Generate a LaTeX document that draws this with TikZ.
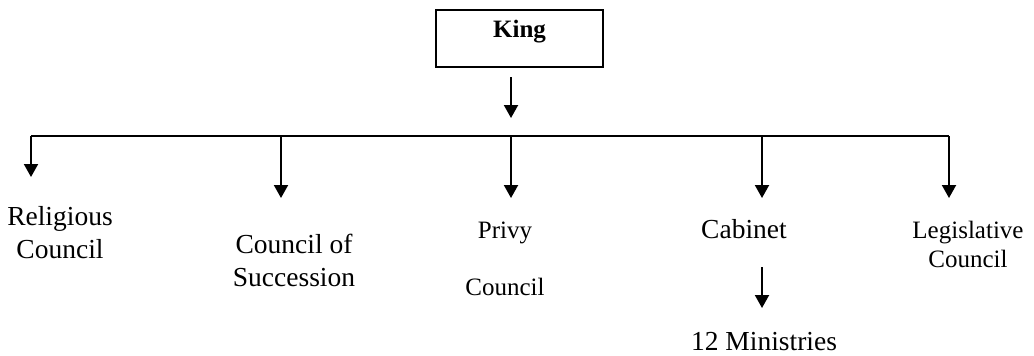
\documentclass[tikz,border=0pt]{standalone}
\usepackage{fontspec}
\setmainfont{Liberation Serif}
\usetikzlibrary{arrows.meta}
\tikzset{
  arr/.style={line width=1pt,-{Triangle[length=6.5pt,width=7pt]}},
  lbl/.style={anchor=base,align=center,inner sep=0pt,font=\fontsize{13.75}{16.5}\selectfont},
  lblsmall/.style={lbl,font=\fontsize{12.5}{14.5}\selectfont},
}
\begin{document}
\begin{tikzpicture}[x=0.5pt,y=-0.5pt]
        \useasboundingbox (0,0) rectangle (1034,355);
        %% King
        \node[draw,line width=0.65pt,minimum width=83.5pt,inner sep=0pt,text height=13.5pt,text depth=15pt,font=\bfseries\fontsize{12.5}{15}\selectfont] (king) at (519.5,38.5) {King};
        \coordinate (kingtop) at (511,77);
        \coordinate (kingtip) at (511,118);
        \draw[arr] (kingtop) -- (kingtip);
        %% bar
        \coordinate (barleft) at (31,136);
        \coordinate (barright) at (949,136);
        \draw[line width=0.65pt] (barleft) -- (barright);
        \draw[arr] (barleft) -- (31,177);
        \draw[arr] (281,136) -- (281,198);
        \draw[arr] (511,136) -- (511,198);
        \draw[arr] (762,136) -- (762,198);
        \draw[arr] (barright) -- (949,198);
        %% bodies (base = last line)
        \node[lbl] (religious) at (60,258) {Religious\\Council};
        \node[lbl] (succession) at (294,286) {Council of\\Succession};
        \node[lblsmall,font=\fontsize{12.5}{28.5}\selectfont] (privy) at (505,295) {Privy\\Council};
        \node[lbl] (cabinet) at (744,238) {Cabinet};
        \node[lblsmall] (legislative) at (968,267) {Legislative\\Council};
        %% ministries
        \draw[arr] (762,267) -- (762,308);
        \node[lbl] (ministries) at (764,350) {12 Ministries};
    \end{tikzpicture}
\end{document}
